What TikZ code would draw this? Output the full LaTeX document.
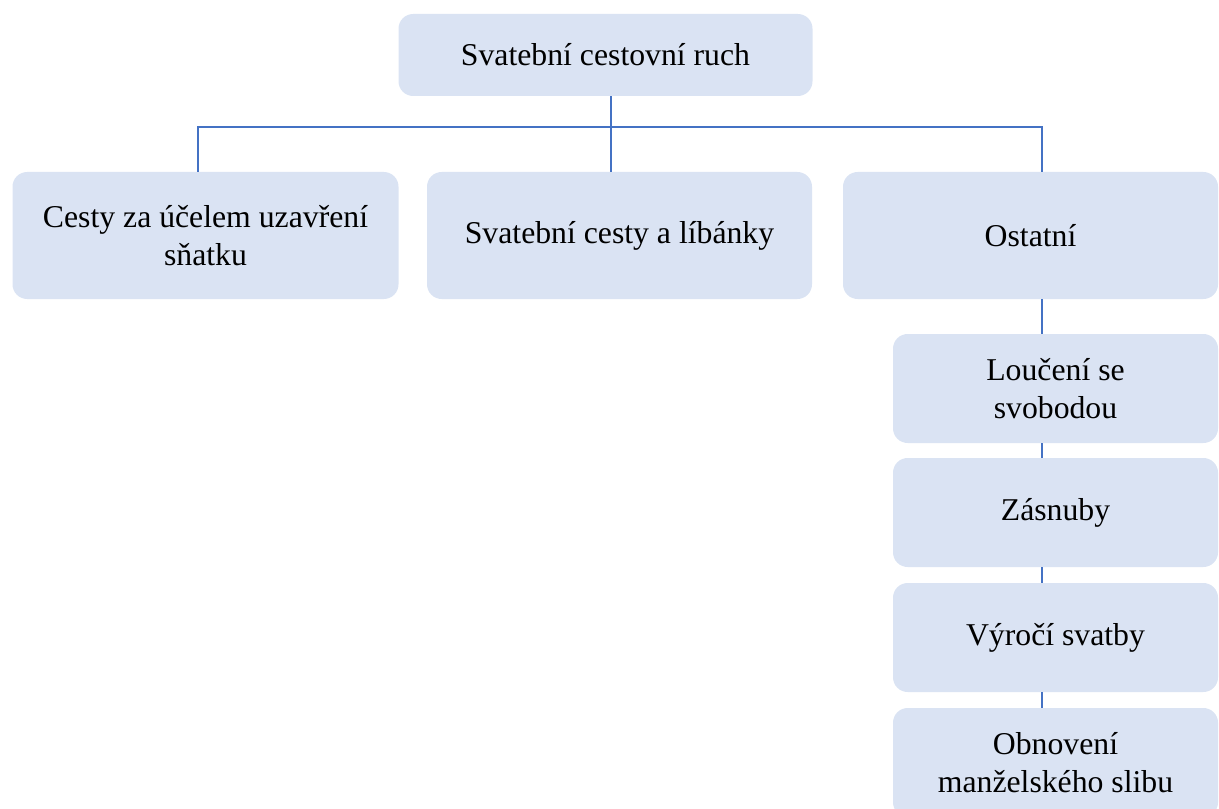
\documentclass[tikz,border=0pt]{standalone}
\usepackage{fontspec}
\setmainfont{Liberation Serif}
\usepackage{tikz}
\usetikzlibrary{positioning,calc}
\definecolor{BoxFill}{RGB}{218,227,243}
\definecolor{LinkBlue}{RGB}{68,114,196}
\tikzset{
  topic/.style={rectangle,rounded corners=11pt,fill=BoxFill,draw=none,
    align=center,inner sep=0pt,font=\fontsize{23.8}{28}\selectfont},
  link/.style={draw=LinkBlue,line width=0.8pt}
}

\begin{document}
\begin{tikzpicture}[x=0.75pt,y=-0.75pt]
      \useasboundingbox (0,0) rectangle (1219,809);
      \clip (0,0) rectangle (1219,809);
      % main topic
      \node[topic,minimum width=414*0.75pt,minimum height=82*0.75pt]
        (root) at (605.5,55) {Svatební cestovní ruch};
      % three branches
      \node[topic,minimum width=386*0.75pt,minimum height=127*0.75pt]
        (cat1) at (205.5,235.5) {Cesty za účelem uzavření\\sňatku};
      \node[topic,minimum width=385*0.75pt,minimum height=127*0.75pt]
        (cat2) at (619.5,235.5) {Svatební cesty a líbánky};
      \node[topic,minimum width=375*0.75pt,minimum height=127*0.75pt]
        (cat3) at (1030.5,235.5) {Ostatní};
      % sub-items of Ostatní
      \node[topic,minimum width=325*0.75pt,minimum height=109*0.75pt]
        (ch1) at (1055.5,388.5) {Loučení se\\svobodou};
      \node[topic,minimum width=325*0.75pt,minimum height=109*0.75pt]
        (ch2) at (1055.5,512.5) {Zásnuby};
      \node[topic,minimum width=325*0.75pt,minimum height=109*0.75pt]
        (ch3) at (1055.5,637.5) {Výročí svatby};
      \node[topic,minimum width=325*0.75pt,minimum height=109*0.75pt]
        (ch4) at (1055.5,762.5) {Obnovení\\manželského slibu};
      % connectors
      \coordinate (jl) at (198,127);
      \coordinate (jm) at (611,127);
      \coordinate (jr) at (1042,127);
      \draw[link] (root.south -| jm) -- (jm |- cat2.north);
      \draw[link] (jl |- cat1.north) |- (jr) -- (jr |- cat3.north);
      \draw[link] (cat3.south -| jr) -- (ch1.north -| jr);
      \draw[link] (ch1.south -| jr) -- (ch2.north -| jr);
      \draw[link] (ch2.south -| jr) -- (ch3.north -| jr);
      \draw[link] (ch3.south -| jr) -- (ch4.north -| jr);
\end{tikzpicture}
\end{document}
